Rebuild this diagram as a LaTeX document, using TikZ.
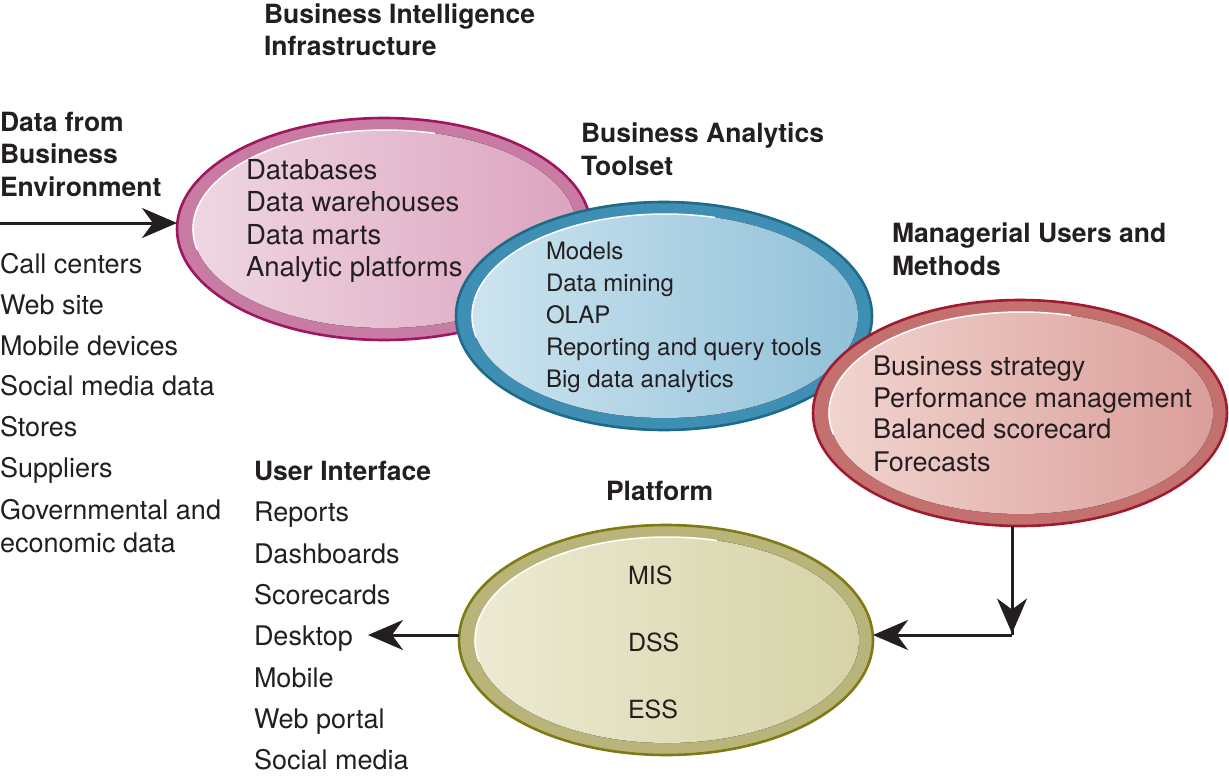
\documentclass[tikz,border=0pt]{standalone}
\usepackage{fontspec}
\setmainfont{TeX Gyre Heros}
\usetikzlibrary{shapes.geometric,arrows.meta,calc}
\definecolor{textc}{HTML}{231F20}
\definecolor{pinkS}{HTML}{A0165E}\definecolor{pinkR}{HTML}{C87BA3}
\definecolor{pinkL}{HTML}{EFD6E2}\definecolor{pinkD}{HTML}{DCA4BF}
\definecolor{blueS}{HTML}{1D6A8A}\definecolor{blueR}{HTML}{3F8EB3}
\definecolor{blueL}{HTML}{CCE4EF}\definecolor{blueD}{HTML}{92C1D9}
\definecolor{redS}{HTML}{9E1B30}\definecolor{redR}{HTML}{C4706F}
\definecolor{redL}{HTML}{F1D4CF}\definecolor{redD}{HTML}{DB9E9A}
\definecolor{oliS}{HTML}{7E7A14}\definecolor{oliR}{HTML}{B9B57A}
\definecolor{oliL}{HTML}{ECEAD2}\definecolor{oliD}{HTML}{D6D3A7}
\newcommand\mybubble[9]{%
  \node[ellipse, draw=#6, fill=#7, line width=2.6pt, inner sep=0pt, outer sep=0pt,
        minimum width=2*#4 pt, minimum height=2*#5 pt] (#1) at (#2,#3) {};
  \fill[left color=#8, right color=#9] (#2+1,#3) ellipse [x radius=#4-15, y radius=#5-12];
  \draw[white, line width=1.5pt, line cap=round]
     ($(#2+1,#3)+(168:#4-15 and #5-12)$) arc[start angle=168, end angle=285, x radius=#4-15, y radius=#5-12];
}
\tikzset{
  txt/.style={inner sep=0pt, outer sep=0pt, anchor=base west, text=textc, font=\fontsize{27}{32}\selectfont},
  hd/.style={txt, font=\bfseries\fontsize{26.5}{32}\selectfont},
  sm/.style={txt, font=\fontsize{24}{30}\selectfont},
  arr/.style={line width=3pt, draw=textc, -{Stealth[length=35pt, width=30pt, inset=11pt]}},
  con/.style={line width=3pt, draw=textc},
}
\begin{document}
\begin{tikzpicture}[x=1pt, y=-1pt]
\useasboundingbox (0,0) rectangle (1229,777);
% bubbles
\mybubble{bi}{384}{229}{207}{111}{pinkS}{pinkR}{pinkL}{pinkD}
\mybubble{ba}{664}{316}{208}{114}{blueS}{blueR}{blueL}{blueD}
\mybubble{mu}{1020}{413}{207}{113}{redS}{redR}{redL}{redD}
\mybubble{pl}{666}{640}{207}{115}{oliS}{oliR}{oliL}{oliD}
% headings
\node[hd] (h1a) at (264,23) {Business Intelligence};
\node[hd] (h1b) at (264,55) {Infrastructure};
\node[hd] (h2a) at (0,131) {Data from};
\node[hd] (h2b) at (0,163) {Business};
\node[hd] (h2c) at (0,196) {Environment};
\node[hd] (h3a) at (581,142) {Business Analytics};
\node[hd] (h3b) at (581,175) {Toolset};
\node[hd] (h4a) at (892,242) {Managerial Users and};
\node[hd] (h4b) at (892,275) {Methods};
\node[hd] (h5) at (254,480) {User Interface};
\node[hd] (h6) at (606,500) {Platform};
% left list
\foreach \t/\yy [count=\i] in {Call centers/273, Web site/314, Mobile devices/355,
   Social media data/395, Stores/436, Suppliers/477, Governmental and/519, economic data/552}
  \node[txt] (src\i) at (0,\yy) {\t};
% pink
\foreach \t/\yy [count=\i] in {Databases/179, Data warehouses/211.5, Data marts/244, Analytic platforms/276.5}
  \node[txt, font=\fontsize{27.5}{32}\selectfont] (bit\i) at (246,\yy) {\t};
% blue
\foreach \t/\yy [count=\i] in {Models/259, Data mining/291, OLAP/323, Reporting and query tools/355, Big data analytics/387}
  \node[sm] (bat\i) at (546,\yy) {\t};
% red
\foreach \t/\yy [count=\i] in {Business strategy/375, Performance management/407, Balanced scorecard/438, Forecasts/471}
  \node[txt] (mut\i) at (873,\yy) {\t};
% olive
\foreach \t/\yy [count=\i] in {MIS/584, DSS/651, ESS/718}
  \node[txt, font=\fontsize{25}{30}\selectfont] (plt\i) at (628,\yy) {\t};
% UI list
\foreach \t/\yy [count=\i] in {Reports/521, Dashboards/563, Scorecards/604, Desktop/645, Mobile/687, Web portal/728, Social media/769}
  \node[txt] (ui\i) at (254,\yy) {\t};
% connectors
\coordinate (inA) at (0,223);
\draw[arr] (inA) -- (inA -| bi.west);
\coordinate (outA) at (368,635);
\draw[arr] (outA -| pl.west) -- (outA);
\coordinate (corner) at (1012,635);
\draw[con] (corner |- mu.south) -- (corner);
\draw[arr, shorten >=1.5pt] (corner |- mu.south) -- (corner);
\draw[arr] (corner) -- (corner -| pl.east);
\end{tikzpicture}
\end{document}
